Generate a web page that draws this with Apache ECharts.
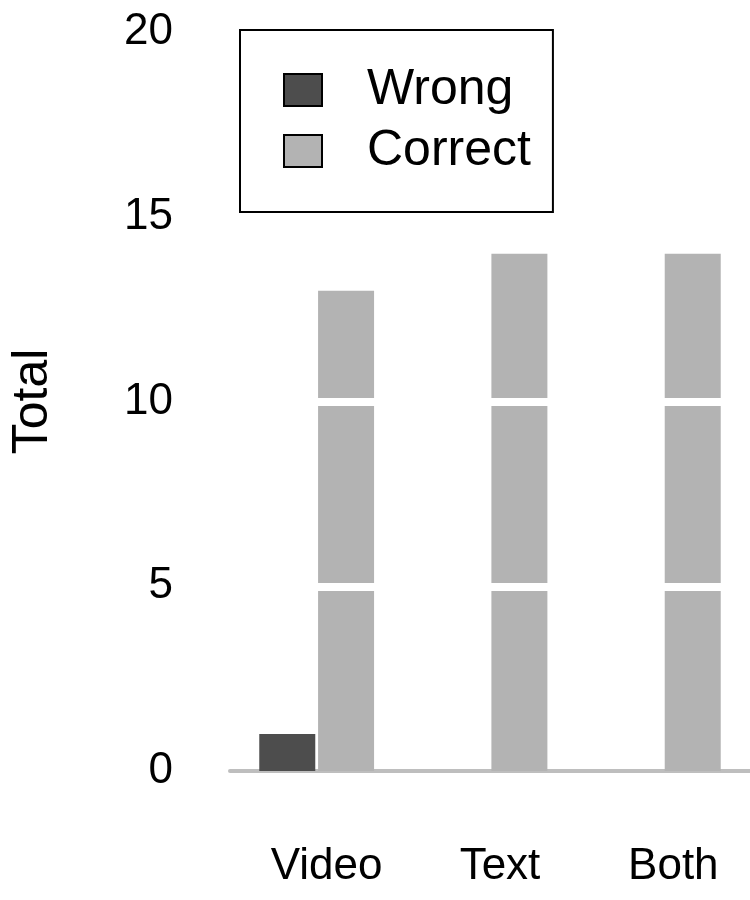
<!DOCTYPE html>
<html style="height: 100%">
<head>
    <meta charset="utf-8">
    <script src="https://cdn.jsdelivr.net/npm/echarts@6/dist/echarts.min.js"></script>
</head>
<body style="height: 100%; margin: 0; background: #fff">
    <div id="main" style="width:750px; height:900px;"></div>
    <script type="text/javascript">
    // data
    var categories = ['Video', 'Text', 'Both'];
    var wrong = [1, 0, 0];
    var correct = [13, 14, 14];
    var yTicks = [0, 5, 10, 15, 20];
    var whiteLines = [5, 10, 15];

    var myChart = echarts.init(document.getElementById('main'));
    var font = '"Liberation Sans", Arial, sans-serif';

    var option = {
        backgroundColor: '#fff',
        animation: false,
        textStyle: { fontFamily: font },
        grid: {
            left: 230,
            top: 32,
            bottom: 129,
            width: 525
        },
        legend: {
            data: ['Wrong', 'Correct'],
            orient: 'vertical',
            left: 240,
            top: 30,
            z: 20,
            padding: [35, 22, 36, 43],
            backgroundColor: '#fff',
            borderColor: '#000',
            borderWidth: 2,
            itemWidth: 38,
            itemHeight: 32,
            itemGap: 11,
            icon: 'rect',
            itemStyle: { borderColor: '#000', borderWidth: 2 },
            textStyle: {
                fontSize: 50,
                color: '#000',
                fontFamily: font,
                padding: [0, 0, 0, 40]
            }
        },
        xAxis: {
            type: 'category',
            data: categories,
            axisLine: { show: true, lineStyle: { color: '#bebebe', width: 4 } },
            axisTick: { show: false },
            axisLabel: {
                fontSize: 44,
                color: '#000',
                margin: 74,
                padding: [0, 0, 0, 20]
            }
        },
        yAxis: {
            type: 'value',
            min: yTicks[0],
            max: yTicks[yTicks.length - 1],
            interval: 5,
            name: 'Total',
            nameLocation: 'middle',
            nameGap: 172,
            nameTextStyle: { fontSize: 50, color: '#000', fontFamily: font },
            axisLine: { show: false },
            axisTick: { show: false },
            splitLine: { show: false },
            axisLabel: { fontSize: 44, color: '#000', margin: 57 }
        },
        series: [
            {
                name: 'Wrong',
                type: 'bar',
                data: wrong,
                barWidth: 56,
                barGap: '5%',
                itemStyle: { color: '#4d4d4d' }
            },
            {
                name: 'Correct',
                type: 'bar',
                data: correct,
                barWidth: 56,
                barGap: '5%',
                itemStyle: { color: '#b3b3b3' },
                markLine: {
                    silent: true,
                    symbol: 'none',
                    z: 10,
                    label: { show: false },
                    lineStyle: { color: '#fff', width: 8, type: 'solid' },
                    data: whiteLines.map(function (v) { return { yAxis: v }; })
                }
            }
        ]
    };

    myChart.setOption(option);
    </script>
</body>
</html>
